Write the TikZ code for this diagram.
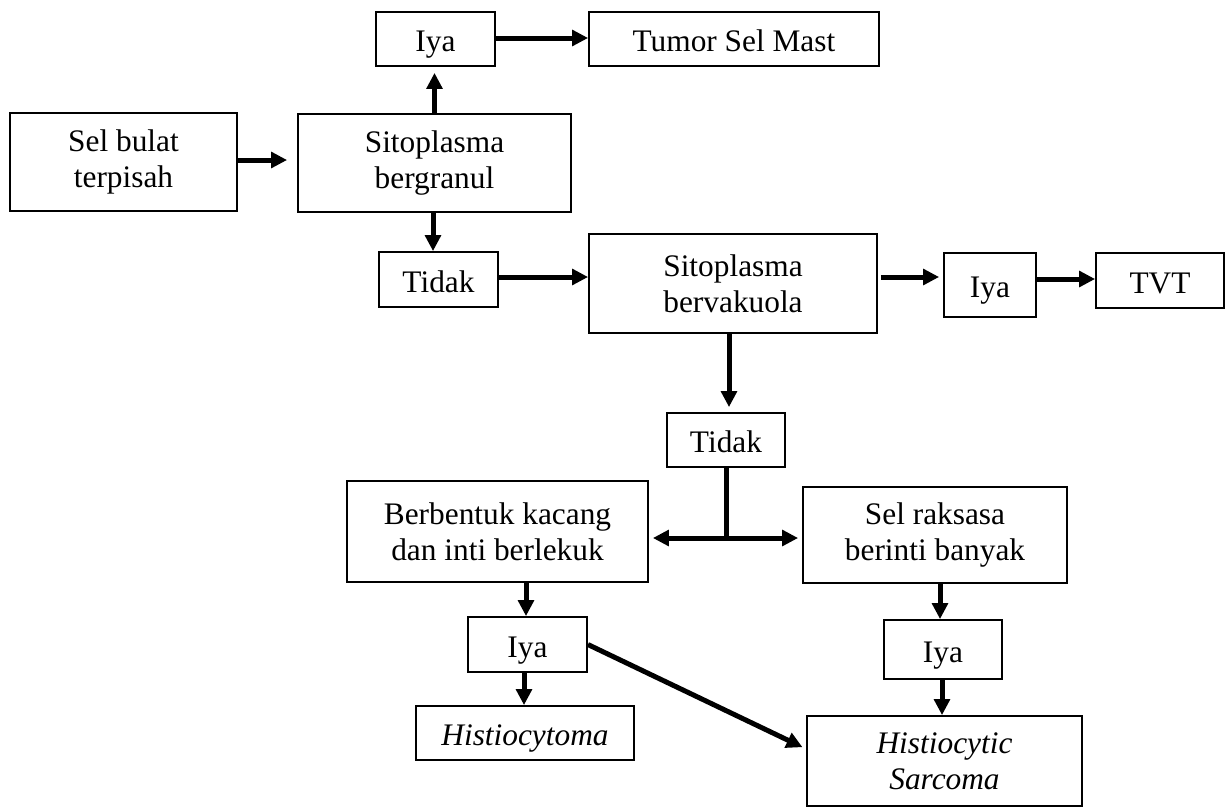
\documentclass[tikz,border=0pt]{standalone}
\usepackage{fontspec}
\setmainfont{Liberation Serif}
\usepackage{tikz}
\usetikzlibrary{arrows.meta,positioning,calc}

\begin{document}
\begin{tikzpicture}[
          x=0.25mm, y=-0.25mm,
          box/.style={rectangle, draw=black, fill=white, line width=0.45mm, inner sep=0pt, align=center, font=\fontsize{22.3}{25.6}\selectfont},
          single/.style={box, text height=17.8pt, text depth=0pt},
          flow/.style={-{Triangle[length=4mm, width=3.9mm]}, line width=1.25mm, draw=black},
          line/.style={line width=1.25mm, draw=black}
        ]
          \useasboundingbox (0,0) rectangle (1225,807);
          % baris atas
          \node[box, minimum width=56.75mm, minimum height=24.5mm] (selbulat) at (123.5,162) {Sel bulat\\terpisah};
          \node[box, minimum width=68.25mm, minimum height=24.5mm] (granul) at (434.5,163) {Sitoplasma\\bergranul};
          \node[single, minimum width=29.75mm, minimum height=13.5mm] (iyaA) at (435.5,39) {Iya};
          \node[single, minimum width=72.5mm, minimum height=13.5mm] (mast) at (734,39) {Tumor Sel Mast};
          \node[single, minimum width=29.75mm, minimum height=13.75mm] (tidakA) at (438.5,279.5) {Tidak};
          \node[box, minimum width=72mm, minimum height=24.75mm] (vakuola) at (733,283.5) {Sitoplasma\\bervakuola};
          \node[single, minimum width=23mm, minimum height=16mm] (iyaB) at (990,285) {Iya};
          \node[single, minimum width=32mm, minimum height=13.75mm] (tvt) at (1160,280.5) {TVT};
          % baris bawah
          \node[single, minimum width=29.5mm, minimum height=13.5mm] (tidakB) at (726,440) {Tidak};
          \node[box, minimum width=75.25mm, minimum height=25.25mm] (kacang) at (497.5,531.5) {Berbentuk kacang\\dan inti berlekuk};
          \node[box, minimum width=66mm, minimum height=24mm] (raksasa) at (935,535) {Sel raksasa\\berinti banyak};
          \node[single, minimum width=29.75mm, minimum height=13.75mm] (iyaC) at (527.5,644.5) {Iya};
          \node[single, minimum width=29.5mm, minimum height=14.75mm] (iyaD) at (943,649.5) {Iya};
          \node[single, minimum width=54.5mm, minimum height=13.5mm] (histio) at (525,733) {\textit{Histiocytoma}};
          \node[box, minimum width=68.75mm, minimum height=22.5mm] (sarkoma) at (944.5,761) {\textit{Histiocytic}\\\textit{Sarcoma}};
          \coordinate (cabang) at (726,538);

          \draw[flow, shorten >=2.5mm] (selbulat.east |- 0,160) -- (granul.west |- 0,160);
          \draw[flow, shorten >=1.5mm] (granul.north) -- (granul.north |- iyaA.south);
          \draw[flow] (iyaA.east |- 0,38) -- (mast.west |- 0,38);
          \draw[flow] (granul.south -| 433,0) -- (tidakA.north -| 433,0);
          \draw[flow] (tidakA.east |- 0,277) -- (vakuola.west |- 0,277);
          \draw[flow, shorten <=0.75mm, shorten >=1mm] (vakuola.east |- 0,277) -- (iyaB.west |- 0,277);
          \draw[flow] (iyaB.east |- 0,279) -- (tvt.west |- 0,279);
          \draw[flow, shorten >=1.25mm] (vakuola.south -| 729,0) -- (tidakB.north -| 729,0);
          \draw[line] (tidakB.south) -- (cabang);
          \draw[flow, shorten >=1mm] (cabang) -- (cabang -| kacang.east);
          \draw[flow, shorten >=1mm] (cabang) -- (cabang -| raksasa.west);
          \draw[flow] (kacang.south -| 526,0) -- (iyaC.north -| 526,0);
          \draw[flow] (iyaC.south -| 524,0) -- (histio.north -| 524,0);
          \draw[flow, shorten >=1mm] (iyaC.east) -- (sarkoma.175);
          \draw[flow] (raksasa.south -| 940,0) -- (iyaD.north -| 940,0);
          \draw[flow] (iyaD.south -| 942,0) -- (sarkoma.north -| 942,0);
        \end{tikzpicture}
\end{document}
